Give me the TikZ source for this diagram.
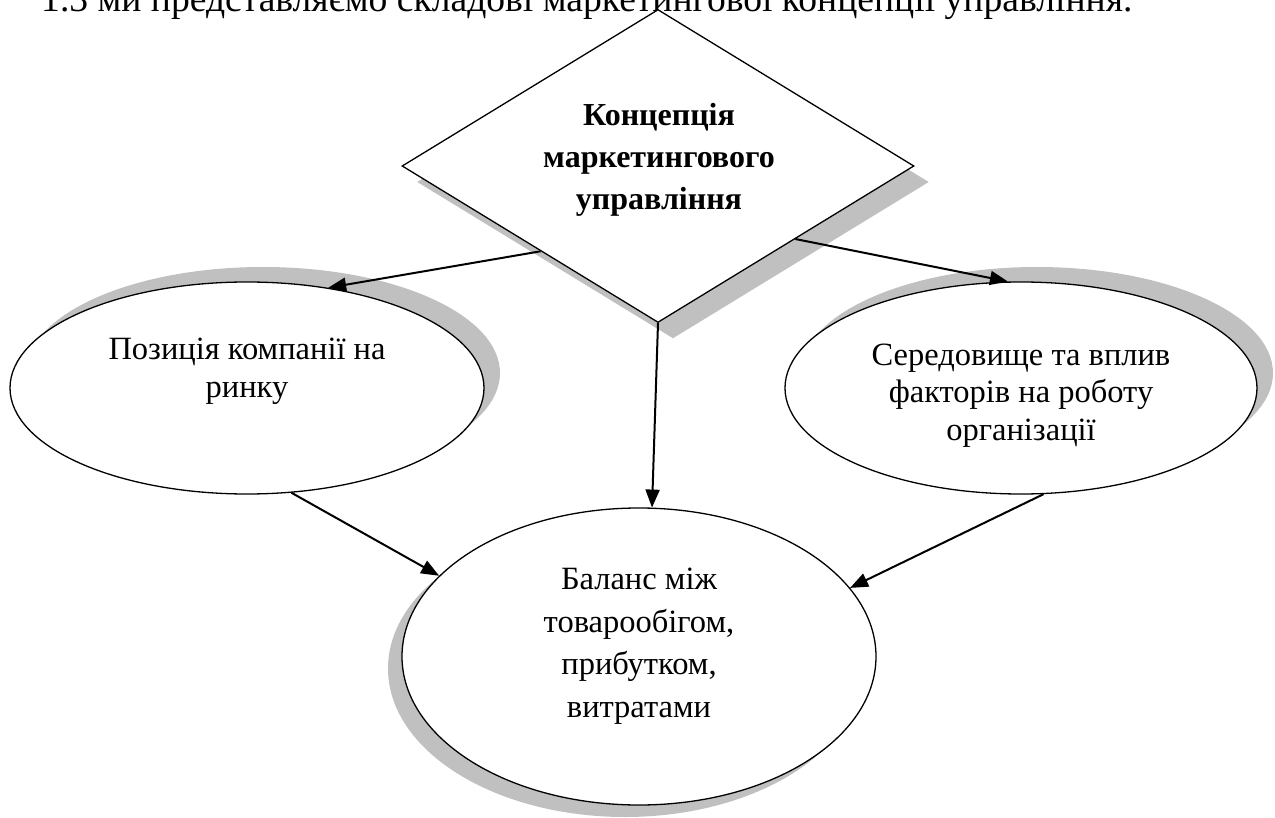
\documentclass[tikz,border=0pt]{standalone}
\usepackage{fontspec}
\setmainfont{Liberation Serif}
\usetikzlibrary{shapes.geometric,shadows,arrows.meta}
\definecolor{shgrey}{RGB}{192,192,192}
\tikzset{
  shapebox/.style={draw=black,line width=1.3pt,fill=white,inner sep=0pt},
  ovalbox/.style={shapebox,ellipse},
  rhombbox/.style={shapebox,diamond},
  shUR/.style={drop shadow={shadow xshift=16pt,shadow yshift=15pt,opacity=1,fill=shgrey}},
  shDR/.style={drop shadow={shadow xshift=15pt,shadow yshift=-16pt,opacity=1,fill=shgrey}},
  shDL/.style={drop shadow={shadow xshift=-14pt,shadow yshift=-12pt,opacity=1,fill=shgrey}},
  plaintext/.style={font=\fontsize{32.5pt}{38pt}\selectfont,align=center,anchor=base,inner sep=0pt},
  conn/.style={line width=2pt,-{Triangle[length=18pt,width=14pt]}}
}
\begin{document}
\begin{tikzpicture}[x=1pt,y=-1pt]
\useasboundingbox (0,0) rectangle (1275,818);
% clipped heading line
\node[font=\fontsize{37.6pt}{44pt}\selectfont,anchor=base west,inner sep=0pt] (head) at (41,12)
  {1.3 ми представляємо складові маркетингової концепції управління.};
% shapes
\node[rhombbox,shDR,minimum width=512pt,minimum height=313pt] (D) at (658,166) {};
\node[ovalbox,shUR,minimum width=474pt,minimum height=212pt] (L) at (247,388) {};
\node[ovalbox,shUR,minimum width=472pt,minimum height=212pt] (R) at (1021,388) {};
\node[ovalbox,shDL,minimum width=474pt,minimum height=297pt] (B) at (639,656.5) {};
% texts (anchor=base is the baseline of the last line)
\node[plaintext,font=\fontsize{32pt}{42pt}\selectfont\bfseries] (Dt) at (659,210)
  {Концепція\\маркетингового\\управління};
\node[plaintext] (Lt) at (247,397) {Позиція компанії на\\ринку};
\node[plaintext,font=\fontsize{32.5pt}{37.5pt}\selectfont] (Rt) at (1021,440)
  {Середовище та вплив\\факторів на роботу\\організації};
\node[plaintext,font=\fontsize{32.5pt}{42.5pt}\selectfont] (Bt) at (639,717)
  {Баланс між\\товарообігом,\\прибутком,\\витратами};
% connectors
\draw[conn] (D.216.6) -- (L.51);
\draw[conn] (D.-28.5) -- (R.97.5);
\draw[conn] (D.south) -- (B.85);
\draw[conn] (L.-67) -- (B.158);
\draw[conn] (R.-78.5) -- (B.18);
\end{tikzpicture}
\end{document}
